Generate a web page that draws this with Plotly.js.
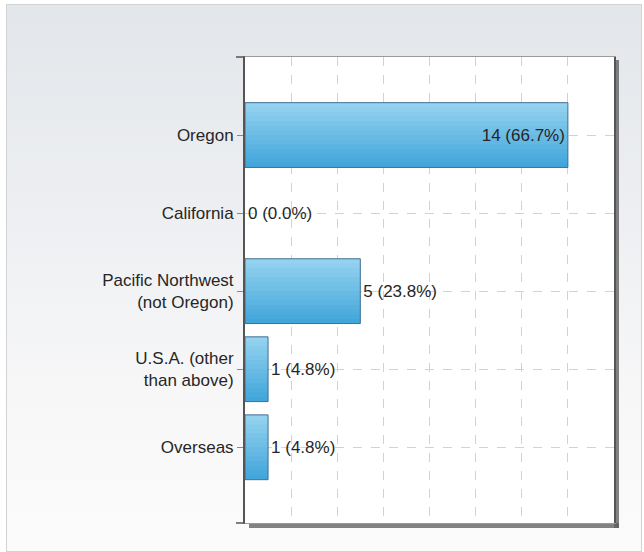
<!DOCTYPE html>
<html>
<head>
<meta charset="utf-8">
<script src="https://cdn.plot.ly/plotly-3.0.1.min.js"></script>
<style>
  html, body { margin: 0; padding: 0; background: #ffffff; }
  #frame {
    position: absolute; left: 6px; top: 4px; width: 634px; height: 546px;
    border: 1px solid #d0d2d6;
    background: linear-gradient(to bottom, #e3e6ea 0%, #eceef1 35%, #f7f7f8 70%, #fbfbfb 100%);
  }
  #chart { position: absolute; left: 0; top: 0; width: 644px; height: 552px; }
</style>
</head>
<body>
<div id="frame"></div>
<div id="chart"></div>
<script>
const categories = ["Oregon", "California", "Pacific Northwest<br>(not Oregon)", "U.S.A. (other<br>than above)", "Overseas"];
const counts = [14, 0, 5, 1, 1];
const percents = [66.7, 0.0, 23.8, 4.8, 4.8];
const labels = counts.map((c, i) => c + " (" + percents[i].toFixed(1) + "%)");
const positions = ["inside", "outside", "outside", "outside", "outside"];
const xTicks = [0, 2, 4, 6, 8, 10, 12, 14, 16];

const W = 644, H = 552, L = 245, R = 30, T = 57, B = 29;
const pw = W - L - R, ph = H - T - B;
const FONT = "Liberation Sans, Arial, sans-serif";
const BW = 0.83;

// gradient strips (style only) drawn from the same data
const NSTRIP = 14;
const gradTop = [148, 210, 239], gradBot = [66, 166, 219];
const traces = [];
for (let k = 0; k < NSTRIP; k++) {
  const t = k / (NSTRIP - 1);
  const c = gradTop.map((v, j) => Math.round(v + (gradBot[j] - v) * t));
  const w = BW / NSTRIP + (k < NSTRIP - 1 ? 0.025 : 0);
  traces.push({
    type: "bar", orientation: "h", y: categories, x: counts,
    width: w, offset: -BW / 2 + k * BW / NSTRIP,
    marker: { color: "rgb(" + c.join(",") + ")", line: { width: 0 } },
    hoverinfo: "none"
  });
}
traces.push({
  type: "bar", orientation: "h", y: categories, x: counts,
  width: BW, offset: -BW / 2,
  text: labels, textposition: positions, insidetextanchor: "end",
  constraintext: "none", cliponaxis: false,
  textfont: { family: FONT, size: 17, color: "#262626" },
  marker: { color: "rgba(0,0,0,0)",
            line: { color: "#3f6f92", width: counts.map(v => v > 0 ? 1 : 0) } },
  hoverinfo: "none"
});

const shapes = [
  { type: "rect", xref: "paper", yref: "paper", layer: "below",
    x0: 1, x1: 1 + 5 / pw, y0: -5 / ph, y1: 1 - 3 / ph,
    fillcolor: "rgba(90,90,90,0.75)", line: { width: 0 } },
  { type: "rect", xref: "paper", yref: "paper", layer: "below",
    x0: 4 / pw, x1: 1 + 5 / pw, y0: -5 / ph, y1: 0,
    fillcolor: "rgba(90,90,90,0.75)", line: { width: 0 } },
  { type: "line", xref: "paper", yref: "paper", x0: -9 / pw, x1: 0, y0: 1, y1: 1,
    line: { color: "#555", width: 1.5 } },
  { type: "line", xref: "paper", yref: "paper", x0: -9 / pw, x1: 0, y0: 0, y1: 0,
    line: { color: "#555", width: 1.5 } }
];

const layout = {
  width: W, height: H,
  margin: { l: L, r: R, t: T, b: B, pad: 0 },
  paper_bgcolor: "rgba(0,0,0,0)",
  plot_bgcolor: "#ffffff",
  showlegend: false,
  barmode: "overlay",
  font: { family: FONT, size: 17, color: "#262626" },
  xaxis: {
    range: [0, 16], tickvals: xTicks, showticklabels: false, ticks: "",
    showgrid: true, gridcolor: "#d2d2d2", griddash: "dash", gridwidth: 1,
    zeroline: false, showline: true, linecolor: "#9a9a9a", linewidth: 1, mirror: true,
    fixedrange: true
  },
  yaxis: {
    type: "category", range: [4.97, -1],
    ticks: "outside", ticklen: 6, tickcolor: "#888", tickwidth: 1,
    showgrid: true, gridcolor: "#d2d2d2", griddash: "dash", gridwidth: 1,
    zeroline: false, showline: true, linecolor: "#555", linewidth: 2, mirror: true,
    tickfont: { family: FONT, size: 17, color: "#262626" },
    fixedrange: true
  },
  shapes: shapes
};

Plotly.newPlot("chart", traces, layout, { displayModeBar: false, staticPlot: true });
</script>
</body>
</html>
